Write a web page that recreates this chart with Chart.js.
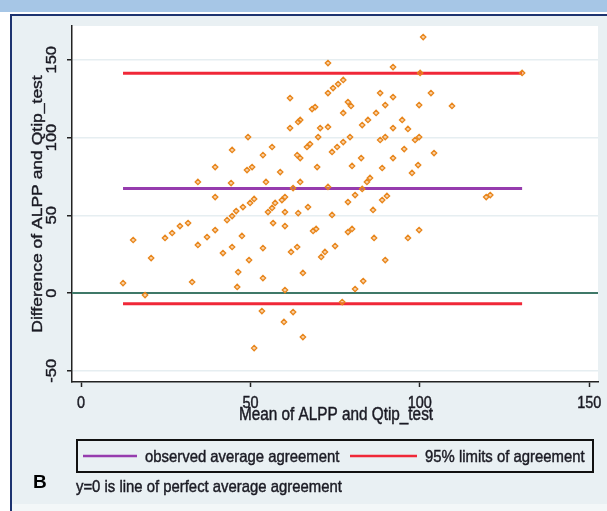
<!DOCTYPE html>
<html>
<head>
<meta charset="utf-8">
<script src="https://cdn.jsdelivr.net/npm/chart.js@4.4.1/dist/chart.umd.min.js"></script>
<style>
  html, body { margin: 0; padding: 0; background: #fff; }
  #wrap { width: 607px; height: 511px; }
</style>
</head>
<body>
<div id="wrap"><canvas id="baChart" width="607" height="511"></canvas></div>
<script>
// Mean of ALPP and Qtip_test (x) and their difference (y)
const meanValues = [
  101.0, 72.9, 92.1, 100.1, 130.2, 77.4, 75.9, 74.4, 72.9, 88.3,
  92.1, 103.3, 61.7, 78.8, 79.7, 89.8, 99.8, 109.5, 69.1, 68.2,
  77.4, 87.1, 64.7, 64.1, 84.7, 83.0, 94.8, 61.7, 70.6, 72.9,
  92.1, 96.5, 70.0, 79.4, 89.8, 88.3, 99.8, 98.6, 77.4, 49.3,
  75.6, 74.1, 66.7, 67.6, 56.4, 53.7, 44.6, 63.8, 95.4, 104.2,
  64.7, 82.7, 92.1, 80.0, 69.7, 99.5, 97.7, 88.9, 39.6, 49.0,
  50.5, 58.8, 85.3, 84.4, 34.5, 44.3, 54.6, 64.7, 72.9, 62.6,
  83.0, 80.9, 78.8, 90.3, 88.9, 86.2, 120.8, 119.6, 60.2, 59.3,
  39.6, 67.0, 64.1, 74.1, 55.2, 56.4, 57.3, 43.1, 44.6, 45.8,
  47.8, 49.9, 51.1, 56.7, 60.2, 68.5, 69.4, 78.8, 80.0, 86.5,
  96.5, 99.8, 47.5, 44.6, 41.9, 37.2, 39.6, 31.6, 29.2, 26.9,
  24.8, 15.4, 20.7, 34.5, 49.6, 53.7, 62.0, 63.8, 70.9, 72.0,
  75.0, 46.4, 46.1, 53.7, 60.2, 65.5, 32.8, 12.4, 18.9, 89.8,
  83.3, 80.9, 77.1, 53.4, 62.6, 59.9, 65.5, 51.1, 60.2
];
const diffValues = [
  164.6, 147.9, 145.3, 141.5, 141.5, 137.0, 134.4, 131.8, 128.6, 128.6,
  126.0, 128.6, 125.4, 122.8, 120.3, 120.9, 120.9, 120.3, 119.6, 118.3,
  115.8, 115.8, 111.3, 110.0, 111.3, 108.0, 111.3, 106.1, 106.1, 106.8,
  106.1, 105.5, 100.3, 100.3, 100.3, 98.4, 100.3, 98.4, 97.1, 100.3,
  93.9, 90.7, 93.9, 95.8, 93.9, 88.7, 92.0, 88.7, 92.6, 90.0,
  86.8, 86.8, 86.8, 81.7, 81.0, 82.3, 77.2, 80.4, 81.0, 79.1,
  81.0, 77.8, 74.0, 71.4, 71.4, 70.7, 71.4, 71.4, 68.2, 67.5,
  66.9, 63.0, 58.5, 62.4, 59.8, 53.4, 63.0, 61.7, 61.7, 59.8,
  61.7, 55.3, 51.4, 50.2, 52.1, 54.7, 57.9, 46.9, 49.5, 52.7,
  55.3, 57.9, 60.5, 45.0, 43.1, 39.9, 41.2, 39.2, 41.2, 35.4,
  35.4, 40.5, 36.7, 29.6, 25.7, 36.0, 40.5, 45.0, 43.1, 38.6,
  35.4, 34.1, 22.5, 30.9, 21.2, 28.9, 26.4, 29.6, 23.2, 26.4,
  30.2, 13.5, 3.9, 9.6, 1.9, 12.9, 7.1, 6.4, -1.3, 21.2,
  7.7, 2.6, -5.8, -11.6, -12.2, -18.6, -28.3, -35.4, 52.1
];
const meanDiff = 67.2;      // observed average agreement
const lowerLimit = -6.9;    // 95% limits of agreement
const upperLimit = 141.3;
const xTicks = [0, 50, 100, 150];
const yTicks = [-50, 0, 50, 100, 150];

const xMin = -2.66, xMax = 152.6;
const yMin = -57.2, yMax = 171.7;
const lineStart = Math.min(...meanValues);
const lineEnd = Math.max(...meanValues);

const FONT = "'Liberation Sans', Arial, sans-serif";
const TEXT = '#1b1b24';
const SQUEEZE = 0.875; // the original graph text is narrow and tall

const points = meanValues.map((m, i) => ({ x: m, y: diffValues[i] }));

function hline(y, from, to) {
  return [{ x: from, y: y }, { x: to, y: y }];
}

// text helper: squeezed horizontally, optionally turned to read upwards
function label(ctx, str, x, y, size, align, upright) {
  ctx.save();
  ctx.font = size + 'px ' + FONT;
  ctx.textAlign = align;
  ctx.textBaseline = 'middle';
  ctx.fillStyle = TEXT;
  ctx.strokeStyle = TEXT;
  ctx.lineWidth = 0.45;
  ctx.translate(x, y);
  ctx.scale(SQUEEZE, 1);
  if (upright) ctx.rotate(-Math.PI / 2);
  ctx.fillText(str, 0, 0);
  ctx.strokeText(str, 0, 0);
  ctx.restore();
}

// frame, white plot region, axis labels, legend and notes
const stataLook = {
  id: 'stataLook',
  beforeDraw(chart) {
    const ctx = chart.ctx, a = chart.chartArea;
    const w = chart.width, h = chart.height;
    ctx.save();
    ctx.fillStyle = '#ffffff';
    ctx.fillRect(0, 0, w, h);
    ctx.fillStyle = '#a6c6e6';
    ctx.fillRect(0, 0, w, 12);
    ctx.fillStyle = '#e9f0f3';
    ctx.fillRect(12, 16, w - 12, h - 23);
    ctx.fillStyle = '#f3f7f8';
    ctx.fillRect(12, h - 7, w - 12, 7);
    ctx.fillStyle = '#1d3370';
    ctx.fillRect(10, 14, w - 10, 2);
    ctx.fillRect(10, 14, 2, h - 14);
    ctx.fillStyle = '#ffffff';
    ctx.fillRect(a.left, a.top, a.right - a.left, a.bottom - a.top);
    ctx.restore();
  },
  afterDraw(chart) {
    const ctx = chart.ctx, a = chart.chartArea;
    const ys = chart.scales.y, xs = chart.scales.x;
    ctx.save();

    yTicks.forEach(v => label(ctx, String(v), 52, ys.getPixelForValue(v), 16.5, 'center', true));
    xTicks.forEach(v => label(ctx, String(v), xs.getPixelForValue(v), 403, 16.5, 'center', false));

    label(ctx, 'Difference of ALPP and Qtip_test', 38, (a.top + a.bottom) / 2, 17.5, 'center', true);
    label(ctx, 'Mean of ALPP and Qtip_test', 336, 415, 17.5, 'center', false);

    // legend box
    ctx.strokeStyle = '#111';
    ctx.lineWidth = 2;
    ctx.strokeRect(77, 440, 516, 32);
    const items = [
      { ds: chart.data.datasets[2], x0: 83, x1: 137, tx: 145 },
      { ds: chart.data.datasets[3], x0: 350, x1: 417, tx: 425 }
    ];
    items.forEach(it => {
      ctx.strokeStyle = it.ds.borderColor;
      ctx.lineWidth = 2.5;
      ctx.beginPath();
      ctx.moveTo(it.x0, 456);
      ctx.lineTo(it.x1, 456);
      ctx.stroke();
      label(ctx, it.ds.label, it.tx, 457, 17, 'left', false);
    });

    label(ctx, 'y=0 is line of perfect average agreement', 76, 487, 17, 'left', false);

    ctx.font = 'bold 19px ' + FONT;
    ctx.fillStyle = '#000';
    ctx.textAlign = 'left';
    ctx.textBaseline = 'middle';
    ctx.fillText('B', 33, 483);
    ctx.restore();
  }
};

const config = {
  type: 'scatter',
  data: {
    datasets: [
      {
        label: 'Difference',
        data: points,
        pointStyle: 'rectRot',
        pointRadius: 2.7,
        borderColor: '#e8851a',
        backgroundColor: 'rgba(240, 150, 55, 0.45)',
        borderWidth: 1.3,
        order: 0
      },
      {
        label: 'y = 0',
        data: hline(0, xMin, xMax),
        showLine: true,
        borderColor: '#3f7868',
        borderWidth: 2,
        pointRadius: 0,
        order: 1
      },
      {
        label: 'observed average agreement',
        data: hline(meanDiff, lineStart, lineEnd),
        showLine: true,
        borderColor: '#963cae',
        borderWidth: 3,
        pointRadius: 0,
        order: 1
      },
      {
        label: '95% limits of agreement',
        data: hline(upperLimit, lineStart, lineEnd),
        showLine: true,
        borderColor: '#f02838',
        borderWidth: 3,
        pointRadius: 0,
        order: 1
      },
      {
        label: '95% lower limit',
        data: hline(lowerLimit, lineStart, lineEnd),
        showLine: true,
        borderColor: '#f02838',
        borderWidth: 3,
        pointRadius: 0,
        order: 1
      }
    ]
  },
  options: {
    responsive: false,
    animation: false,
    layout: { padding: { left: 0, top: 26, right: 9, bottom: 0 } },
    plugins: {
      legend: { display: false },
      tooltip: { enabled: false }
    },
    scales: {
      x: {
        type: 'linear',
        min: xMin,
        max: xMax,
        afterBuildTicks: s => { s.ticks = xTicks.map(v => ({ value: v })); },
        afterFit: s => { s.height = 129; },
        grid: { drawOnChartArea: false, tickLength: 5, tickColor: '#222', tickWidth: 1.5 },
        border: { color: '#222', width: 1.5 },
        ticks: { display: false }
      },
      y: {
        type: 'linear',
        min: yMin,
        max: yMax,
        afterBuildTicks: s => { s.ticks = yTicks.map(v => ({ value: v })); },
        afterFit: s => { s.width = 72; },
        grid: { color: '#e6eef1', lineWidth: 1.5, tickLength: 5, tickColor: '#222', tickWidth: 1.5 },
        border: { color: '#222', width: 1.5 },
        ticks: { display: false }
      }
    }
  },
  plugins: [stataLook]
};

const ctx = document.getElementById('baChart').getContext('2d');
new Chart(ctx, config);
</script>
</body>
</html>
